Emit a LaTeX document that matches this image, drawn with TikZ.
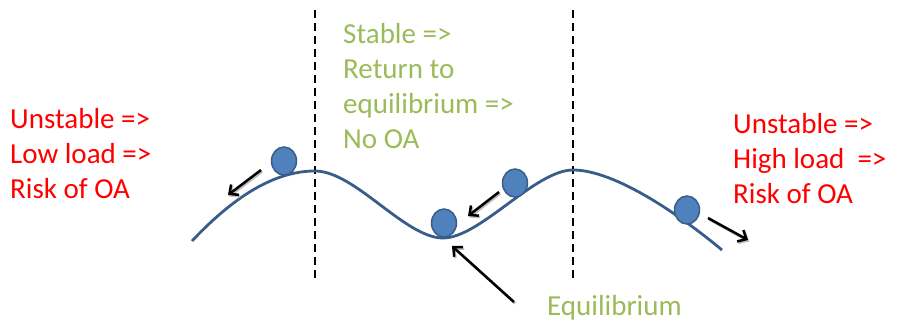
\documentclass[tikz,border=0pt]{standalone}
\usepackage{fontspec}
\setmainfont{Carlito}
\usepackage{xcolor}
\usepackage{tikz}
\usetikzlibrary{arrows.meta,shapes.geometric}
\definecolor{ballblue}{HTML}{4F81BD}
\definecolor{balledge}{HTML}{385D8A}
\definecolor{stablegreen}{HTML}{9BBB59}

\begin{document}
\begin{tikzpicture}[x=1pt,y=-1pt,>={Straight Barb[length=7pt,width=13pt]},
    ball/.style={ellipse,draw=balledge,fill=ballblue,line width=1.5pt,minimum width=25pt,minimum height=28pt,inner sep=0pt},
    push/.style={->,line width=2.5pt,black,preaction={draw=black!25,line width=2.5pt,transform canvas={shift={(1.2pt,-1.5pt)}}}},
    note/.style={font=\fontsize{29}{35}\selectfont,align=left,anchor=base west,inner sep=0pt}]
      \useasboundingbox (0,0) rectangle (897,322);
      \coordinate (lefttop) at (315,10);
      \coordinate (leftbot) at (315,282);
      \coordinate (righttop) at (573,10);
      \coordinate (rightbot) at (573,282);
      \draw[line width=1.5pt,dash pattern=on 8pt off 5pt] (lefttop) -- (leftbot);
      \draw[line width=1.5pt,dash pattern=on 8pt off 5pt] (righttop) -- (rightbot);
      \draw[balledge,line width=2.8pt] (192,241) .. controls (240,190) and (280,171) .. (315,171)
        .. controls (355,171) and (405,238) .. (443,238)
        .. controls (480,238) and (535,170) .. (573,170)
        .. controls (615,170) and (680,215) .. (722,250);
      \node[ball] (lowball) at (284,161) {};
      \node[ball] (restball) at (444,223) {};
      \node[ball] (backball) at (515,183) {};
      \node[ball] (highball) at (687,210) {};
      \coordinate (lowtail) at (261,170);
      \coordinate (lowtip) at (228,195);
      \coordinate (backtail) at (499,192);
      \coordinate (backtip) at (468,216);
      \coordinate (eqtail) at (514,302);
      \coordinate (eqtip) at (452,246);
      \coordinate (hightail) at (708,218);
      \coordinate (hightip) at (748,240);
      \draw[push] (lowtail) -- (lowtip);
      \draw[push] (backtail) -- (backtip);
      \draw[push] (eqtail) -- (eqtip);
      \draw[push] (hightail) -- (hightip);
      \node[note,red] (lowtxt) at (10,198) {Unstable =>\\Low load =>\\Risk of OA};
      \node[note,stablegreen] (stabletxt) at (343,148) {Stable =>\\Return to\\equilibrium =>\\No OA};
      \node[note,red] (hightxt) at (733,203) {Unstable =>\\High load~~=>\\Risk of OA};
      \node[note,stablegreen] (eqtxt) at (547,315) {Equilibrium};
    \end{tikzpicture}
\end{document}
